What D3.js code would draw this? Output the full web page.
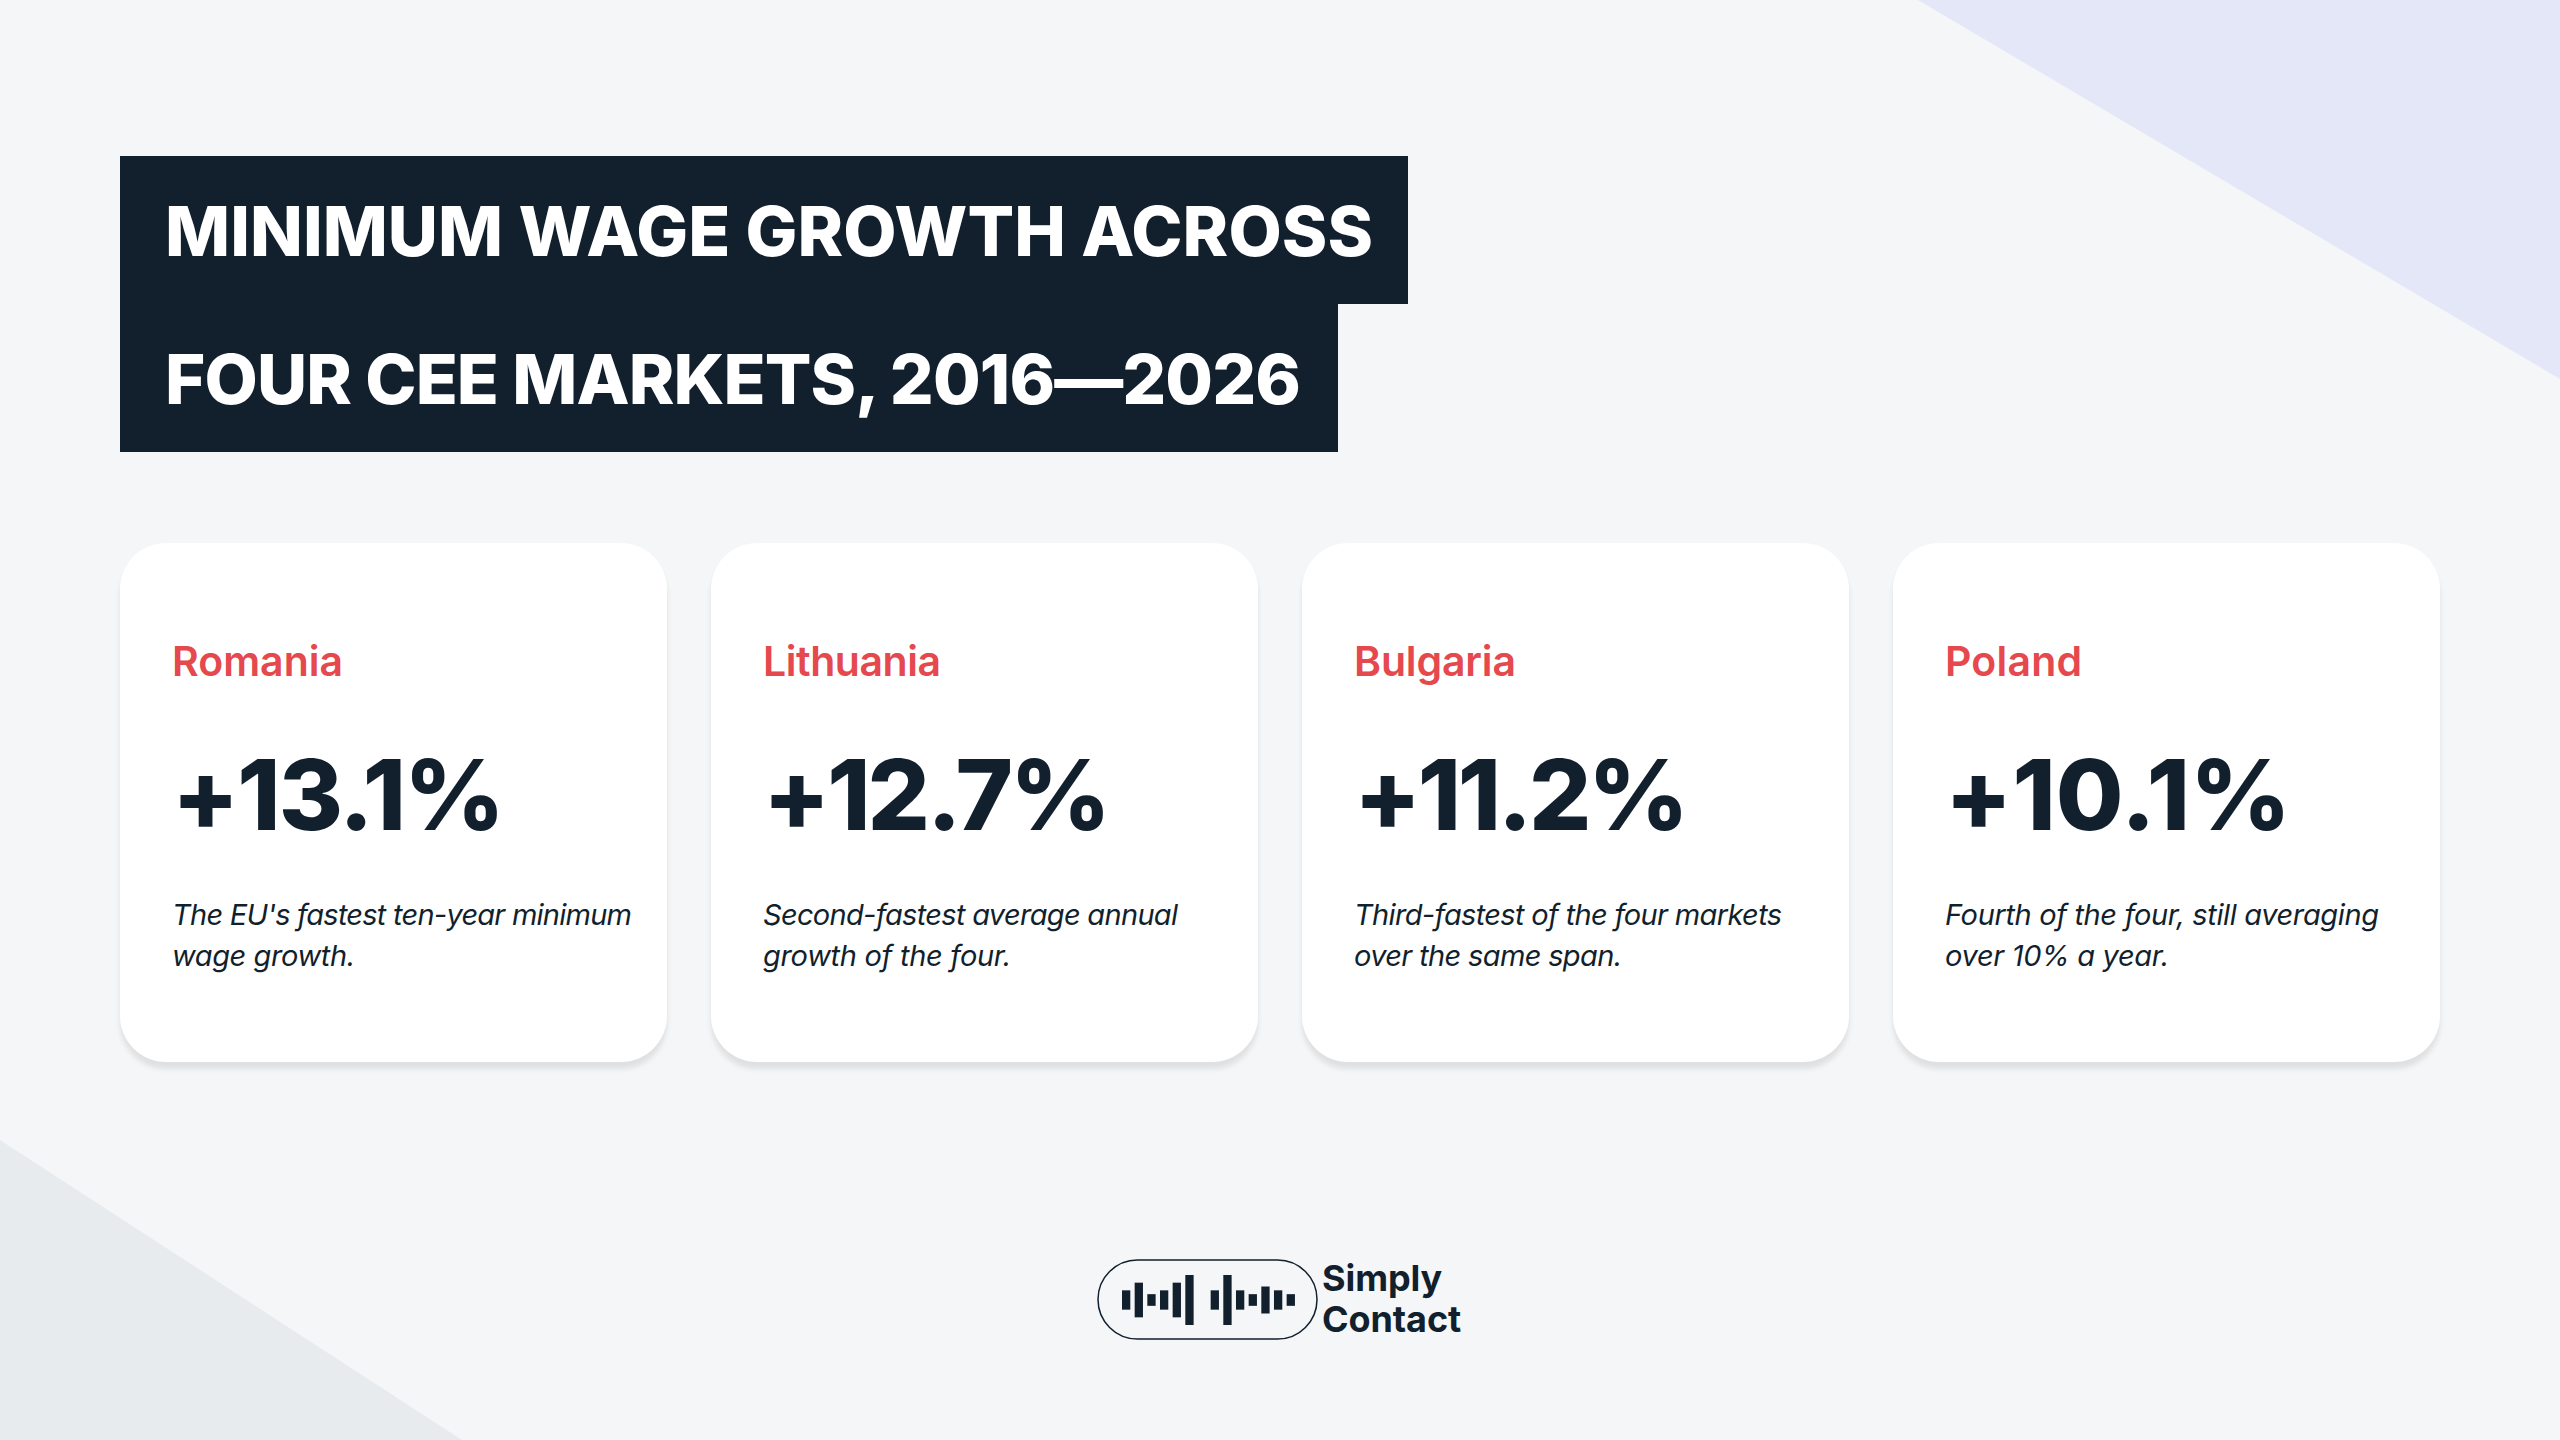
<!DOCTYPE html>
<html><head><meta charset="utf-8">
<script src="https://cdn.jsdelivr.net/npm/d3@7/dist/d3.min.js"></script>
<style>html,body{margin:0;padding:0;background:#f4f6f8;overflow:hidden}svg{display:block}</style>
</head><body><svg id="c" width="2560" height="1440"></svg>
<script>
const titleLines = ["MINIMUM WAGE GROWTH ACROSS", "FOUR CEE MARKETS, 2016—2026"];
const countries = ["Romania", "Lithuania", "Bulgaria", "Poland"];
const growth = [13.1, 12.7, 11.2, 10.1];
const notes = [
  ["The EU's fastest ten-year minimum", "wage growth."],
  ["Second-fastest average annual", "growth of the four."],
  ["Third-fastest of the four markets", "over the same span."],
  ["Fourth of the four, still averaging", "over 10% a year."]
];
const logoLevels = [2, 4, 1, 2, 4, 6, 0, 2, 6, 2, 1, 3, 2, 1];
const logoWords = ["Simply", "Contact"];
const labelWidths = [171, 178, 162, 137];
const valueWidths = [333, 348, 335, 346];
const noteWidths = [[460, 183], [415, 248], [428, 268], [434, 224]];

const ink = "#121f2d", red = "#e5484d";
const svg = d3.select("#c");
const fit = (node, w) => {
  const n = node.getNumberOfChars(), l = node.getComputedTextLength();
  d3.select(node).attr("letter-spacing", (w - l) / Math.max(1, n - 1));
};

svg.append("path").attr("d","M1918,0L2560,379L2560,0Z").attr("fill","#e3e7f7");
svg.append("path").attr("d","M0,1140L462,1440L0,1440Z").attr("fill","#e8ebee");

// title
const tg = svg.append("g");
tg.append("rect").attr("x",120).attr("y",156).attr("width",1288).attr("height",148).attr("fill",ink);
tg.append("rect").attr("x",120).attr("y",304).attr("width",1218).attr("height",148).attr("fill",ink);
tg.selectAll("text").data(titleLines).join("text")
  .attr("x",165).attr("y",(d,i)=>256+i*148)
  .attr("font-family","Inter").attr("font-weight",800).attr("font-size",69).attr("fill","#fff")
  .text(d=>d).each(function(d,i){ fit(this, [1208,1136][i]); });

// cards
const x = d3.scaleBand().domain(countries).range([120,2440]).paddingInner(44/591).paddingOuter(0);
const fmt = d3.format("+.1f");
const defs = svg.append("defs");
const f = defs.append("filter").attr("id","s").attr("x","-10%").attr("y","-10%").attr("width","120%").attr("height","120%");
f.append("feGaussianBlur").attr("stdDeviation",2.5);
const cards = svg.selectAll("g.card").data(countries).join("g").attr("class","card")
  .attr("transform",d=>`translate(${x(d)},543)`);
cards.append("rect").attr("y",7).attr("width",x.bandwidth()).attr("height",519).attr("rx",46)
  .attr("fill","#000").attr("fill-opacity",.09).attr("filter","url(#s)");
cards.append("rect").attr("width",x.bandwidth()).attr("height",519).attr("rx",46).attr("fill","#fff");
cards.append("text").attr("x",52).attr("y",133).attr("font-family","Inter").attr("font-weight",600).attr("font-size",41)
  .attr("fill",red).text(d=>d).each(function(d,i){ fit(this, labelWidths[i]); });
cards.append("text").attr("x",52).attr("y",287).attr("font-family","Inter").attr("font-weight",800).attr("font-size",98)
  .attr("fill",ink).text((d,i)=>fmt(growth[i])+"%").each(function(d,i){ fit(this, valueWidths[i]); });
cards.each(function(d,i){
  d3.select(this).selectAll("text.n").data(notes[i]).join("text").attr("class","n")
    .attr("x",52).attr("y",(t,j)=>382+j*41).attr("font-family","Inter").attr("font-style","italic")
    .attr("font-size",29).attr("fill",ink).text(t=>t).each(function(t,j){ fit(this, noteWidths[i][j]); });
});

// logo
const lg = svg.append("g");
lg.append("rect").attr("x",1098).attr("y",1260).attr("width",219).attr("height",79).attr("rx",39.5)
  .attr("fill","none").attr("stroke",ink).attr("stroke-width",1.5);
const lx = d3.scaleBand().domain(d3.range(logoLevels.length)).range([1122,1122+173]).paddingInner(0.34);
const lh = d3.scaleLinear().domain([0,6]).range([4,50]);
lg.selectAll("rect.b").data(logoLevels.map((v,i)=>({v,i})).filter(d=>d.v>0)).join("rect").attr("class","b")
  .attr("x",d=>lx(d.i)).attr("width",8.3).attr("y",d=>1300-lh(d.v)/2).attr("height",d=>lh(d.v)).attr("fill",ink);
lg.selectAll("text").data(logoWords).join("text").attr("x",1322).attr("y",(d,i)=>1291+i*41)
  .attr("font-family","Inter").attr("font-weight",700).attr("font-size",36).attr("fill",ink).attr("letter-spacing",-0.1).text(d=>d);
</script></body></html>
